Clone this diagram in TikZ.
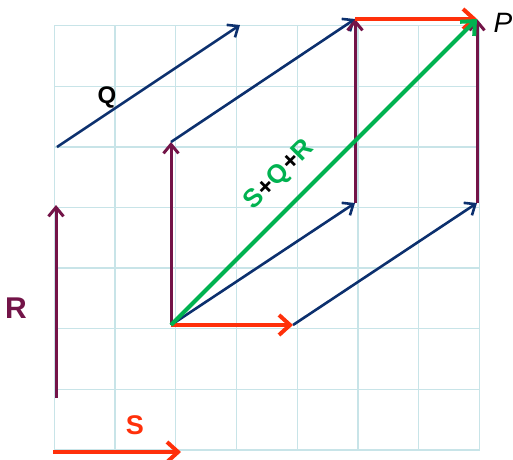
\documentclass[tikz,border=0pt]{standalone}
\usepackage{fontspec}
\setmainfont{Liberation Sans}
\usetikzlibrary{arrows.meta}
\definecolor{gridc}{RGB}{200,228,232}
\definecolor{qblue}{RGB}{12,48,110}
\definecolor{rmaroon}{RGB}{115,20,72}
\definecolor{sred}{RGB}{255,48,10}
\definecolor{sgreen}{RGB}{0,178,80}
\begin{document}
\begin{tikzpicture}[x=1pt,y=-1pt,
  qvec/.style={qblue,line width=2.6pt,-{Straight Barb[length=9pt,width=15pt,line width=2.6pt]}},
  rvec/.style={rmaroon,line width=3pt,-{Straight Barb[length=9pt,width=15pt,line width=3pt]}},
  svec/.style={sred,line width=4pt,-{Straight Barb[length=11pt,width=20pt,line width=4pt]}},
  gvec/.style={sgreen,line width=4pt,-{Straight Barb[length=11pt,width=20pt,line width=4pt]}},
  lab/.style={font=\fontsize{24}{24}\selectfont\bfseries,inner sep=0pt}]
\useasboundingbox (0,0) rectangle (513,459);
% grid
\foreach \k in {0,...,7}{
  \draw[gridc,line width=1.3pt] ({54.3+60.75*\k},25.7) -- ({54.3+60.75*\k},450);
  \draw[gridc,line width=1.3pt] (54.3,{25.7+60.6*\k}) -- (479.5,{25.7+60.6*\k});
}
% free vectors
\coordinate (q0) at (57,147);
\coordinate (q1) at (240,25);
\coordinate (r0) at (56,398);
\coordinate (r1) at (56,205);
\coordinate (s0) at (53,452);
\coordinate (s1) at (181,452);
\draw[qvec] (q0) -- (q1);
\draw[rvec] (r0) -- (r1);
\draw[svec] (s0) -- (s1);
\node[lab,text=black] (ql) at (107,97) {Q};
\node[lab,text=rmaroon,font=\fontsize{30}{30}\selectfont\bfseries] (rl) at (16,308) {R};
\node[lab,text=sred,font=\fontsize{27}{27}\selectfont\bfseries] (sl) at (135,425) {S};
% construction
\coordinate (O) at (171,325);
\coordinate (A) at (171,142);
\coordinate (B) at (355,203);
\coordinate (C) at (293,325);
\coordinate (D) at (477,203);
\coordinate (E) at (355,19);
\coordinate (P) at (477,19);
\draw[rvec] (O) -- (A);
\draw[qvec] (A) -- (E);
\draw[qvec] (O) -- (B);
\draw[rvec] (B) -- (E);
\draw[qvec] (C) -- (D);
\draw[rvec] (D) -- (P);
\draw[svec] (O) -- (C);
\draw[svec] (E) -- (P);
\draw[gvec] (O) -- (P);
\node[font=\fontsize{28}{28}\selectfont\itshape,inner sep=0pt] (pl) at (503,23) {P};
\node[lab,rotate=45,text=sgreen,font=\fontsize{26}{26}\selectfont\bfseries] (sum) at (280,175) {S\textcolor{black}{+}Q\textcolor{black}{+}R};
\end{tikzpicture}
\end{document}
